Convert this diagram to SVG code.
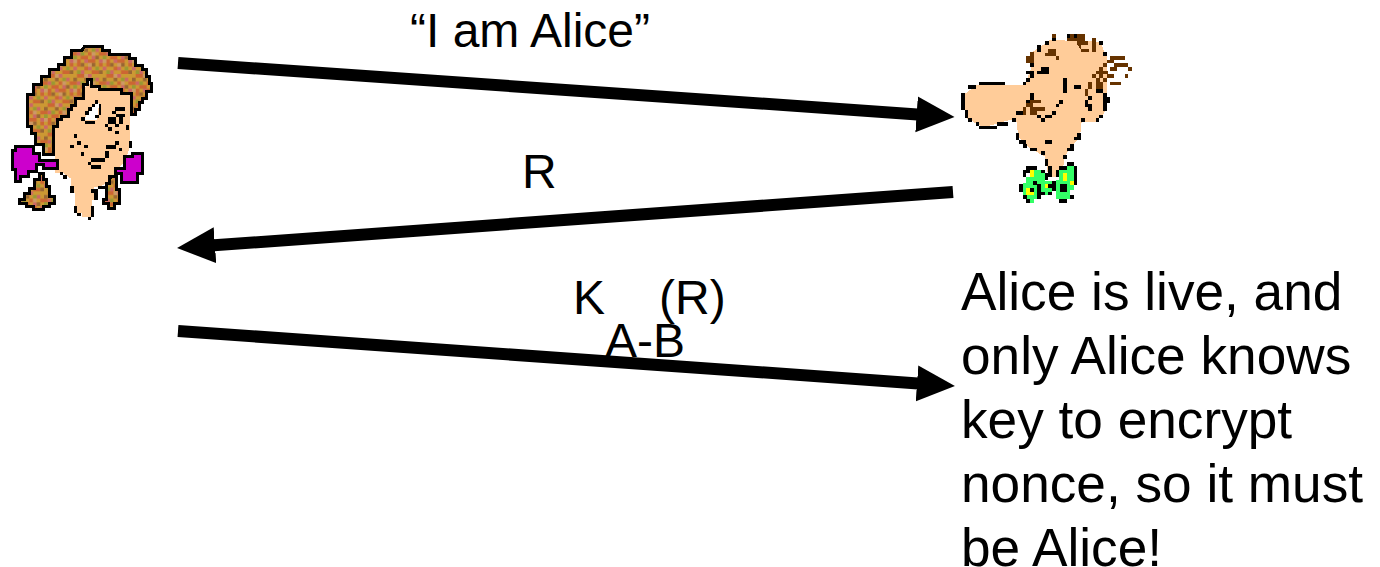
<svg xmlns="http://www.w3.org/2000/svg" width="1380" height="567" viewBox="0 0 1380 567">
<style>
text{font-family:"Liberation Sans",Arial,sans-serif;fill:#000}
.m{font-size:48px}
.b{font-size:53.2px}
.c line{stroke:#000;stroke-width:12}
.f{shape-rendering:crispEdges}
.o{stroke:#000;stroke-width:9;stroke-linejoin:miter}
.k{fill:#000}
.br{fill:#663300}
.s{fill:#ffcc99}
.p{fill:#cc00cc}
.g{fill:#33ff66}
.y{fill:#ffff00}
.a{fill:#cc6633}.d{fill:#cc6666}.e{fill:#996633}.h{fill:#999933}.i{fill:#cc9966}
</style>
<defs>
<marker id="ah" markerUnits="userSpaceOnUse" markerWidth="40" markerHeight="40" refX="8" refY="18" orient="auto"><path d="M0 0L38 18L0 36Z" fill="#000"/></marker>
<pattern id="hair" patternUnits="userSpaceOnUse" width="88" height="88">
<rect width="88" height="88" fill="#cc9933"/>
<path class="a" d="M0 0h22v11h-22zM55 0h11v22h-11zM33 11h11v11h-11zM77 22h11v11h-11zM11 33h22v11h-22zM55 44h22v11h-22zM0 66h11v11h-11zM33 66h22v11h-22zM66 77h22v11h-22z"/>
<path class="d" d="M33 0h11v11h-11zM77 0h11v11h-11zM0 22h11v11h-11zM44 22h11v11h-11zM66 33h11v11h-11zM22 55h11v11h-11zM0 44h11v11h-11zM55 66h11v11h-11zM11 77h11v11h-11z"/>
<path class="e" d="M11 11h11v11h-11zM66 11h11v11h-11zM33 33h11v11h-11zM77 55h11v11h-11zM44 55h11v11h-11zM22 77h11v11h-11z"/>
<path class="h" d="M22 22h11v11h-11zM55 33h11v11h-11zM11 55h11v11h-11zM66 66h11v11h-11zM44 77h11v11h-11z"/>
<path class="i" d="M44 0h11v11h-11zM0 11h11v11h-11zM77 44h11v11h-11zM11 66h11v11h-11z"/>
</pattern>
</defs>
<g id="alice" class="f" transform="translate(0,30) scale(.3333)">
<path class="s" d="M165 290L265 160L300 180L390 185V350L375 395L350 420V440L300 470H282V510H275V560H245V548H225V490L212 470V445L190 430H165Z"/>
<path fill="url(#hair)" class="o" d="M253 50H308V62H330V73H390V85H408V107H428V118H440V140H450V162H455V185H440V205H428V218H418V240H408V255H395V190H365V180H300V170H275V150H262V165H250V205H228V228H215V240H205V260H185V270H172V290H162V375H130V345H108V310H95V290H82V195H100V165H125V140H150V120H175V105H195V82H215V62H245Z"/>
<path fill="url(#hair)" class="o" d="M118 430H130V450H140V470H148V500H165V520H150V530H130V540H100V530H80V520H60V510H75V490H90V475H105V450H118Z"/>
<path fill="url(#hair)" class="o" d="M330 440H350V480H358V520H345V535H325V520H310V510H320V460H330Z"/>
<path class="p o" d="M46 350H100V372H118V392H172V416H130V405H110V425H85V440H62V454H46V420H38V362H46Z"/>
<path class="p o" d="M374 380H398V372H428V430H412V458H366V432H348V415H374Z"/>
<path fill="#fff" d="M255 262L285 220H298L290 270H250Z"/>
<path class="k" d="M285 210h10v11h-10zM275 221h11v11h-11zM265 232h11v11h-11zM255 243h11v11h-11zM243 262h11v11h-11zM296 221h8v33h-8zM286 254h10v11h-10zM254 273h32v8h-32z"/>
<path class="k" d="M345 232h30v10h-30zM335 242h12v10h-12zM325 262h22v20h-22zM347 252h20v8h-20zM358 262h10v20h-10zM345 282h12v8h-12zM366 252h8v10h-8z"/>
<path class="k" d="M222 312h10v11h-10zM232 334h11v11h-11zM210 345h11v10h-11zM252 345h11v10h-11zM242 366h10v11h-10zM318 346h30v10h-30zM345 334h11v11h-11zM316 364h10v20h-10zM272 385h44v10h-44zM272 405h32v11h-32zM264 395h10v10h-10zM388 334h8v20h-8zM358 354h8v8h-8zM345 304h12v8h-12zM378 285h8v16h-8zM325 292h10v10h-10zM315 282h8v8h-8zM180 425h10v10h-10zM190 435h10v12h-10zM210 468h12v20h-12zM222 528h8v20h-8zM232 548h12v10h-12zM264 560h10v10h-10zM272 528h10v32h-10zM282 478h12v32h-12zM294 468h22v10h-22zM324 434h12v12h-12zM272 478h12v10h-12z"/>
</g>
<g id="bob" class="f" transform="translate(950,20) scale(.3333)">
<path class="s" d="M300 60L450 65L470 110L470 220L470 270L440 305L395 305L390 350L360 385L345 410L335 470L295 470L285 410L240 385L205 350L198 295L100 322L50 295L40 225L80 195L225 195L245 140L240 100L265 85Z"/>
<path class="k" d="M88 186h78v8h-78zM54 195h24v12h-24zM33 219h12v52h-12zM45 271h8v22h-8zM54 295h12v10h-12zM78 306h10v12h-10zM88 318h54v8h-54zM142 306h32v12h-32zM186 295h12v10h-12zM198 340h10v20h-10zM208 360h20v12h-20zM220 372h10v12h-10zM240 384h20v9h-20zM274 393h11v12h-11zM285 360h22v12h-22zM285 417h10v20h-10zM340 405h12v12h-12zM352 384h20v10h-20zM360 372h12v12h-12zM372 350h20v10h-20zM381 340h12v10h-12zM393 295h12v10h-12zM438 295h10v10h-10zM447 285h12v8h-12zM459 220h12v52h-12zM471 230h10v20h-10zM405 240h10v20h-10zM415 228h12v12h-12zM415 252h12v20h-12zM438 207h22v12h-22zM339 174h12v44h-12zM372 195h22v12h-22zM240 219h12v20h-12zM228 240h12v12h-12zM198 273h24v12h-24zM260 285h12v10h-12zM272 295h12v10h-12zM285 285h22v10h-22zM305 273h12v12h-12zM318 252h10v10h-10zM328 240h10v12h-10zM260 153h36v8h-36zM272 141h24v12h-24zM228 153h24v9h-24zM240 162h12v12h-12zM228 174h12v12h-12zM218 186h10v8h-10zM240 129h12v12h-12zM260 76h12v20h-12zM285 64h11v10h-11zM306 54h12v10h-12zM350 42h10v12h-10zM372 42h10v12h-10zM447 64h12v12h-12zM459 96h12v12h-12z"/>
<path class="br" d="M306 42h12v12h-12zM360 42h12v20h-12zM350 54h30v8h-30zM381 42h24v22h-24zM381 64h34v10h-34zM381 74h12v22h24v-8h-24zM426 54h12v42h-12zM295 88h24v20h-34v-9h10zM318 108h9v12h-9zM240 96h12v12h-12zM228 108h24v22h-24zM480 108h45v12h-45zM471 120h22v10h-22zM459 129h12v12h-12zM492 129h42v12h-42zM480 141h20v12h-20zM534 141h12v12h-12zM447 141h12v12h-12zM438 153h36v10h-36zM426 163h12v12h-12zM447 163h12v12h-12zM471 163h20v12h-20zM525 163h10v12h-10zM438 175h12v12h-12zM459 175h12v10h-12zM415 186h12v20h-12zM438 186h22v20h-22zM480 186h33v9h-33zM405 207h9v20h-9zM240 240h33v10h-33zM228 250h22v12h-22zM240 262h45v12h-45zM240 274h20v10h-20zM218 262h10v22h-10z"/>
<path class="g" d="M228 472H240V450H284V484H305V524H272V516H262V536H252V548H230V524H218V490H228Z"/>
<path class="g" d="M318 480H328V450H352V438H372V510H360V536H318Z"/>
<path class="y" d="M240 450h12v22h-12zM339 460h12v24h-12zM360 484h12v10h-12zM285 492h10v12h-10zM228 504h24v20h-24z"/>
<path class="k" d="M228 438h32v12h-32zM218 450h22v10h-22zM218 460h10v12h-10zM272 450h12v10h-12zM284 460h9v20h-9zM295 438h10v32h-10zM318 450h10v20h-10zM326 438h26v12h-26zM352 426h20v12h-20zM372 438h10v58h-10zM208 492h12v24h-12zM218 524h12v14h-12zM228 538h12v10h-12zM240 504h12v12h-12zM250 484h12v10h-12zM260 492h12v44h-12zM306 484h12v30h-12zM294 492h12v12h-12zM272 516h12v10h-12zM294 516h12v10h-12zM330 492h22v24h-22zM360 524h12v12h-12zM328 538h22v10h-22z"/>
</g>
<g id="connectors" class="c">
<line x1="178" y1="63" x2="924.6" y2="114.9" marker-end="url(#ah)"/>
<line x1="953" y1="192" x2="207" y2="245.8" marker-end="url(#ah)"/>
<line x1="178" y1="331" x2="925" y2="383.9" marker-end="url(#ah)"/>
</g>
<g id="label-1"><text class="m" x="410" y="47">“I am Alice”</text></g>
<g id="label-2"><text class="m" x="522" y="188">R</text></g>
<g id="label-3"><text class="m" x="573" y="314">K</text><text class="m" x="659" y="314">(R)</text><text class="m" x="605" y="357">A-B</text></g>
<g id="note"><text class="b" x="961" y="310">Alice is live, and</text><text class="b" x="961" y="374">only Alice knows</text><text class="b" x="961" y="438">key to encrypt</text><text class="b" x="961" y="502">nonce, so it must</text><text class="b" x="961" y="566">be Alice!</text></g>
</svg>
